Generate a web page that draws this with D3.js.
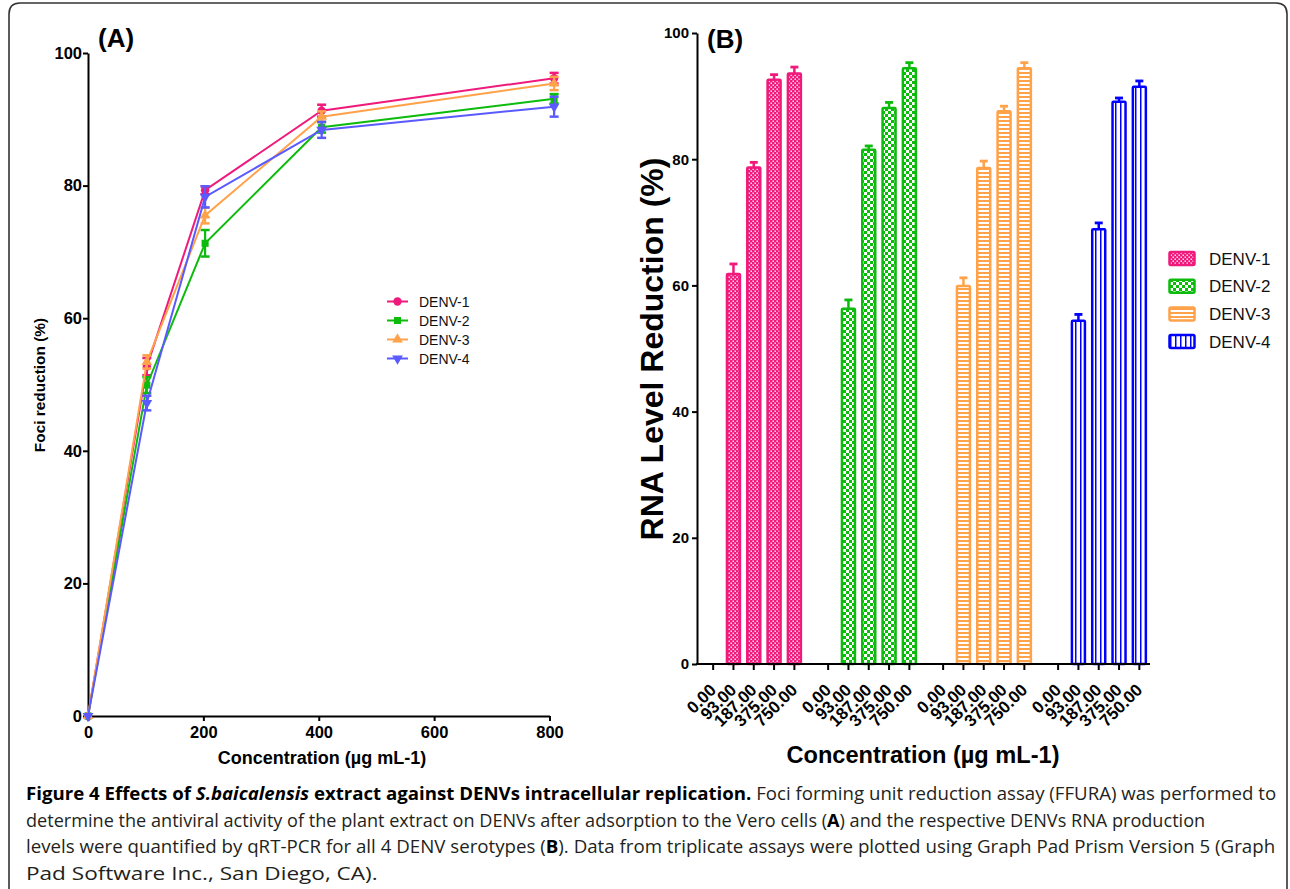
<!DOCTYPE html>
<html>
<head>
<meta charset="utf-8">
<script src="https://cdn.jsdelivr.net/npm/d3@7"></script>
<style>
  body { margin: 0; background: #fff; }
  svg { display: block; }
  .ax text { font-family: "Liberation Sans", Arial, sans-serif; font-weight: bold; fill: #000; }
</style>
</head>
<body>
<svg id="fig" width="1290" height="889"></svg>
<script>
// ---- data ----
const serotypes = ["DENV-1", "DENV-2", "DENV-3", "DENV-4"];

// panel A: foci reduction (%) vs concentration
const concA = [0, 102, 203, 405, 808];
const foci1 = [0, 52.7, 79.3, 91.3, 96.2];
const foci2 = [0, 49.9, 71.3, 88.8, 93.1];
const foci3 = [0, 53.4, 75.5, 90.4, 95.4];
const foci4 = [0, 47.2, 78.3, 88.4, 91.9];
const fociErr1 = [0, 1.3, 0.6, 0.9, 0.8];
const fociErr2 = [0, 1.2, 2.0, 0.8, 0.7];
const fociErr3 = [0, 1.0, 1.2, 0.8, 1.0];
const fociErr4 = [0, 1.1, 1.6, 1.2, 1.5];
const xTicksA = [0, 200, 400, 600, 800];
const yTicks = [0, 20, 40, 60, 80, 100];

// panel B: RNA level reduction (%) by concentration label
const concB = ["0.00", "93.00", "187.00", "375.00", "750.00"];
const rna1 = [0, 61.8, 78.7, 92.6, 93.6];
const rna2 = [0, 56.3, 81.5, 88.1, 94.4];
const rna3 = [0, 59.9, 78.6, 87.6, 94.4];
const rna4 = [0, 54.4, 68.9, 89.1, 91.5];
const rnaErr1 = [0, 1.6, 0.8, 0.8, 1.0];
const rnaErr2 = [0, 1.4, 0.6, 0.9, 0.9];
const rnaErr3 = [0, 1.3, 1.1, 0.8, 0.9];
const rnaErr4 = [0, 1.0, 1.0, 0.6, 0.9];

const colorsA = ["#ef1a7b", "#0cbb0c", "#ffa24a", "#5a5aff"];
const colorsB = ["#ef1a7b", "#0cbb0c", "#ffa24a", "#0000ff"];

const svg = d3.select("#fig");
const font = '"Liberation Sans", Arial, sans-serif';

// frame
svg.append("path")
  .attr("d", "M9,900 V14 Q9,3 20,3 H1276 Q1287,3 1287,14 V900")
  .attr("fill", "none").attr("stroke", "#333").attr("stroke-width", 1.6);

// ================= Panel A =================
const seriesA = [
  { name: serotypes[0], v: foci1, e: fociErr1 },
  { name: serotypes[1], v: foci2, e: fociErr2 },
  { name: serotypes[2], v: foci3, e: fociErr3 },
  { name: serotypes[3], v: foci4, e: fociErr4 },
];
const xA = d3.scaleLinear().domain([0, 800]).range([88, 549.5]);
const yA = d3.scaleLinear().domain([0, 100]).range([716, 53]);

const gA = svg.append("g");
gA.append("g").attr("class", "ax").attr("transform", "translate(88,0)")
  .call(d3.axisLeft(yA).tickValues(yTicks).tickSize(5).tickSizeOuter(0).tickPadding(1))
  .call(g => g.selectAll("text").style("font-size", "16.5px"))
  .call(g => g.selectAll("path,line").attr("stroke", "#000").attr("stroke-width", 2));
gA.append("g").attr("class", "ax").attr("transform", "translate(0,716)")
  .call(d3.axisBottom(xA).tickValues(xTicksA).tickSize(5).tickSizeOuter(0).tickPadding(5))
  .call(g => g.selectAll("text").style("font-size", "16.5px"))
  .call(g => g.selectAll("path,line").attr("stroke", "#000").attr("stroke-width", 2));

const symbolsA = [
  d3.symbol().type(d3.symbolCircle).size(55),
  d3.symbol().type(d3.symbolSquare).size(50),
  d3.symbol().type(d3.symbolTriangle).size(50),
  d3.symbol().type(d3.symbolTriangle).size(50),
];
const line = d3.line().x((d, i) => xA(concA[i])).y(d => yA(d));

seriesA.forEach((s, k) => {
  const c = colorsA[k];
  const g = gA.append("g");
  g.append("path").attr("d", line(s.v)).attr("fill", "none")
    .attr("stroke", c).attr("stroke-width", 2);
  s.v.forEach((v, i) => {
    const x = xA(concA[i]);
    if (s.e[i] > 0) {
      const y0 = yA(v - s.e[i]), y1 = yA(v + s.e[i]);
      g.append("line").attr("x1", x).attr("x2", x).attr("y1", y0).attr("y2", y1)
        .attr("stroke", c).attr("stroke-width", 2.2);
      [y0, y1].forEach(yy => g.append("line").attr("x1", x - 4.5).attr("x2", x + 4.5)
        .attr("y1", yy).attr("y2", yy).attr("stroke", c).attr("stroke-width", 2.5));
    }
    g.append("path").attr("d", symbolsA[k]())
      .attr("transform", `translate(${x},${yA(v)})` + (k === 3 ? " rotate(180)" : ""))
      .attr("fill", c);
  });
});

gA.append("text").attr("x", 98).attr("y", 47).text("(A)")
  .style("font", `bold 26px ${font}`);
gA.append("text").attr("transform", "translate(45,385) rotate(-90)")
  .attr("text-anchor", "middle").text("Foci reduction (%)")
  .style("font", `bold 15.4px ${font}`);
gA.append("text").attr("x", 322).attr("y", 764).attr("text-anchor", "middle")
  .text("Concentration (µg mL-1)").style("font", `bold 18px ${font}`);

// legend A
const legA = gA.append("g");
serotypes.forEach((name, k) => {
  const y = 301.5 + k * 19;
  legA.append("line").attr("x1", 387).attr("x2", 408).attr("y1", y).attr("y2", y)
    .attr("stroke", colorsA[k]).attr("stroke-width", 2);
  legA.append("path").attr("d", symbolsA[k]())
    .attr("transform", `translate(397.5,${y})` + (k === 3 ? " rotate(180)" : ""))
    .attr("fill", colorsA[k]);
  legA.append("text").attr("x", 419).attr("y", y).attr("dy", "0.36em").text(name)
    .style("font", `14px ${font}`).attr("fill", "#111");
});

// ================= Panel B =================
const defs = svg.append("defs");
function pat(id, w, h, bg, draw) {
  const p = defs.append("pattern").attr("id", id).attr("patternUnits", "userSpaceOnUse")
    .attr("width", w).attr("height", h);
  p.append("rect").attr("width", w).attr("height", h).attr("fill", bg);
  draw(p);
}
pat("p1", 4, 4, colorsB[0], p => {
  p.append("rect").attr("x", 0.5).attr("y", 0.5).attr("width", 1.4).attr("height", 1.4).attr("fill", "#fff");
  p.append("rect").attr("x", 2.5).attr("y", 2.5).attr("width", 1.4).attr("height", 1.4).attr("fill", "#fff");
});
pat("p2", 6, 6, colorsB[1], p => {
  p.append("rect").attr("x", 0).attr("y", 0).attr("width", 3).attr("height", 3).attr("fill", "#fff");
  p.append("rect").attr("x", 3).attr("y", 3).attr("width", 3).attr("height", 3).attr("fill", "#fff");
});
pat("p3", 4, 4, "#fff", p => {
  p.append("rect").attr("x", 0).attr("y", 0).attr("width", 4).attr("height", 2).attr("fill", colorsB[2]);
});
pat("p4", 5, 5, "#fff", p => {
  p.append("rect").attr("x", 0).attr("y", 0).attr("width", 1.5).attr("height", 5).attr("fill", colorsB[3]);
});

const seriesB = [
  { name: serotypes[0], v: rna1, e: rnaErr1 },
  { name: serotypes[1], v: rna2, e: rnaErr2 },
  { name: serotypes[2], v: rna3, e: rnaErr3 },
  { name: serotypes[3], v: rna4, e: rnaErr4 },
];
const xGroup = d3.scaleBand().domain(serotypes).range([703, 1149.5]).paddingInner(0.117);
const xSlot = d3.scaleBand().domain(concB).range([0, xGroup.bandwidth()]);
const yB = d3.scaleLinear().domain([0, 100]).range([664, 33]);

const gB = svg.append("g");
const barW = xSlot.bandwidth() * 0.64;

seriesB.forEach((s, k) => {
  const c = colorsB[k];
  const g = gB.append("g");
  s.v.forEach((v, i) => {
    if (v <= 0) return;
    const cx = xGroup(s.name) + xSlot(concB[i]) + xSlot.bandwidth() / 2;
    g.append("line").attr("x1", cx).attr("x2", cx).attr("y1", yB(v)).attr("y2", yB(v + s.e[i]))
      .attr("stroke", c).attr("stroke-width", 2.5);
    g.append("line").attr("x1", cx - 4).attr("x2", cx + 4)
      .attr("y1", yB(v + s.e[i])).attr("y2", yB(v + s.e[i]))
      .attr("stroke", c).attr("stroke-width", 2.8);
    g.append("rect").attr("x", cx - barW / 2).attr("y", yB(v))
      .attr("width", barW).attr("height", yB(0) - yB(v))
      .attr("fill", `url(#p${k + 1})`).attr("stroke", c).attr("stroke-width", 2.5)
      .attr("rx", 1);
  });
});

gB.append("g").attr("class", "ax").attr("transform", "translate(697,0)")
  .call(d3.axisLeft(yB).tickValues(yTicks).tickSize(5).tickSizeOuter(0).tickPadding(3))
  .call(g => g.selectAll("text").style("font-size", "15px"))
  .call(g => g.selectAll("path,line").attr("stroke", "#000").attr("stroke-width", 2));

// x axis B: one tick per concentration in every group
const xb = gB.append("g").attr("class", "ax");
xb.append("line").attr("x1", 696).attr("x2", 1150).attr("y1", 664).attr("y2", 664)
  .attr("stroke", "#000").attr("stroke-width", 2);
serotypes.forEach(name => {
  concB.forEach(lab => {
    const cx = xGroup(name) + xSlot(lab) + xSlot.bandwidth() / 2;
    xb.append("line").attr("x1", cx).attr("x2", cx).attr("y1", 664).attr("y2", 670)
      .attr("stroke", "#000").attr("stroke-width", 2);
    xb.append("text").attr("transform", `translate(${cx + 4},691) rotate(-45)`)
      .attr("text-anchor", "end").text(lab).style("font-size", "17px");
  });
});

gB.append("text").attr("x", 707).attr("y", 48).text("(B)")
  .style("font", `bold 26px ${font}`);
gB.append("text").attr("transform", "translate(663,349) rotate(-90)")
  .attr("text-anchor", "middle").text("RNA Level Reduction (%)")
  .style("font", `bold 32px ${font}`);
gB.append("text").attr("x", 923).attr("y", 763).attr("text-anchor", "middle")
  .text("Concentration (µg mL-1)").style("font", `bold 23.6px ${font}`);

// legend B
const legB = gB.append("g");
serotypes.forEach((name, k) => {
  const y = 258.5 + k * 27.7;
  legB.append("rect").attr("x", 1169.5).attr("y", y - 6.5).attr("width", 25).attr("height", 13)
    .attr("fill", `url(#p${k + 1})`).attr("stroke", colorsB[k]).attr("stroke-width", 2.5).attr("rx", 1.5);
  legB.append("text").attr("x", 1209).attr("y", y).attr("dy", "0.36em").text(name)
    .style("font", `17px ${font}`).attr("fill", "#111");
});

// ================= caption =================
const capFont = '"Open Sans", "Noto Sans", sans-serif';
const capLines = [
  { y: 800, w: 1251, parts: [
    ["Figure 4 Effects of ", "bold", "normal"], ["S.baicalensis", "bold", "italic"],
    [" extract against DENVs intracellular replication.", "bold", "normal"],
    [" Foci forming unit reduction assay (FFURA) was performed to", "normal", "normal"]] },
  { y: 826.5, w: 1180, parts: [
    ["determine the antiviral activity of the plant extract on DENVs after adsorption to the Vero cells (", "normal", "normal"],
    ["A", "bold", "normal"], [") and the respective DENVs RNA production", "normal", "normal"]] },
  { y: 853, w: 1250, parts: [
    ["levels were quantified by qRT-PCR for all 4 DENV serotypes (", "normal", "normal"],
    ["B", "bold", "normal"],
    ["). Data from triplicate assays were plotted using Graph Pad Prism Version 5 (Graph", "normal", "normal"]] },
  { y: 879.5, w: 352, parts: [["Pad Software Inc., San Diego, CA).", "normal", "normal"]] },
];
capLines.forEach(L => {
  const g = svg.append("g");
  const t = g.append("text").attr("x", 0).attr("y", 0)
    .style("font-family", capFont).style("font-size", "18.5px").attr("fill", "#231f20");
  L.parts.forEach(([txt, wt, st]) => {
    t.append("tspan").text(txt).style("font-weight", wt).style("font-style", st)
      .attr("fill", wt === "bold" ? "#000" : "#231f20");
  });
  const natural = t.node().getComputedTextLength();
  g.attr("transform", `translate(26,${L.y}) scale(${L.w / natural},1)`);
});
</script>
</body>
</html>
